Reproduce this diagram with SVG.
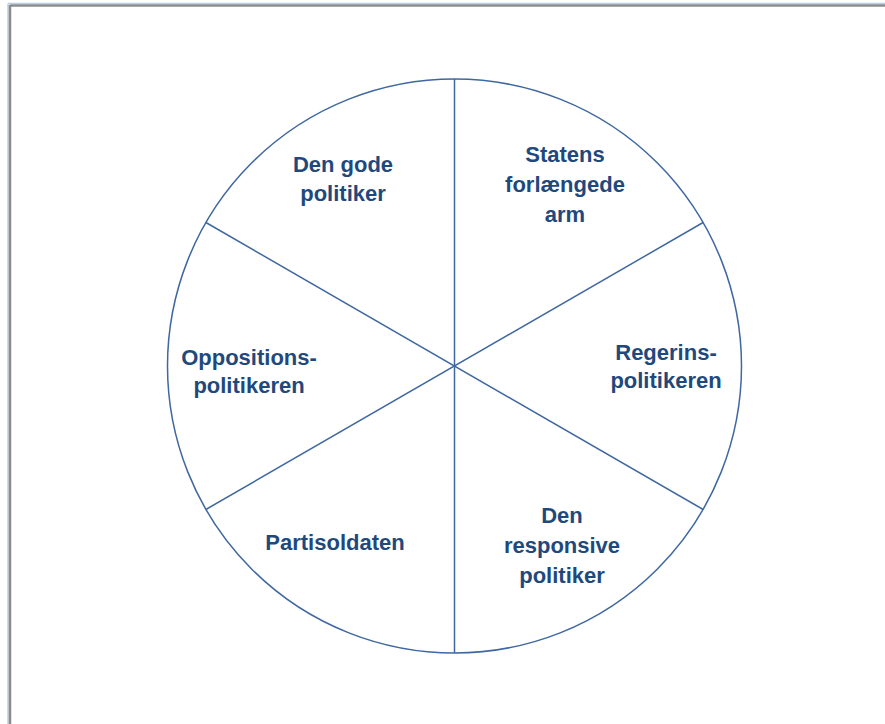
<svg xmlns="http://www.w3.org/2000/svg" width="885" height="724" viewBox="0 0 885 724">
<style>
.lbl{font-family:"Liberation Sans",Arial,sans-serif;font-weight:bold;font-size:22px;fill:#1F497D;text-anchor:middle}
.ln{stroke:#3F67A0;stroke-width:1.5;fill:none}
</style>
<rect width="885" height="724" fill="#fff"/>
<g id="frame">
<line x1="8" y1="3.5" x2="885" y2="3.5" stroke="#B9CDE5" stroke-width="1.5"/>
<line x1="8" y1="3.5" x2="8" y2="724" stroke="#B9CDE5" stroke-width="1.5"/>
<line x1="10" y1="5.5" x2="885" y2="5.5" stroke="#8C8C8C" stroke-width="2.5"/>
<line x1="10" y1="5" x2="10" y2="724" stroke="#8C8C8C" stroke-width="2.5"/>
</g>
<g id="connectors">
<circle class="ln" cx="454.5" cy="366" r="287"/>
<line class="ln" x1="454.5" y1="79" x2="454.5" y2="653"/>
<line class="ln" x1="205.9" y1="222.5" x2="703.1" y2="509.5"/>
<line class="ln" x1="205.9" y1="509.5" x2="703.1" y2="222.5"/>
</g>
<g id="n1"><text class="lbl" x="343" y="172">Den gode</text><text class="lbl" x="343" y="201">politiker</text></g>
<g id="n2"><text class="lbl" x="565" y="162">Statens</text><text class="lbl" x="565" y="192">forlængede</text><text class="lbl" x="565" y="222">arm</text></g>
<g id="n3"><text class="lbl" x="666" y="360">Regerins-</text><text class="lbl" x="666" y="388">politikeren</text></g>
<g id="n4"><text class="lbl" x="562" y="523">Den</text><text class="lbl" x="562" y="553">responsive</text><text class="lbl" x="562" y="583">politiker</text></g>
<g id="n5"><text class="lbl" x="335" y="550">Partisoldaten</text></g>
<g id="n6"><text class="lbl" x="249" y="365">Oppositions-</text><text class="lbl" x="249" y="393">politikeren</text></g>
</svg>
